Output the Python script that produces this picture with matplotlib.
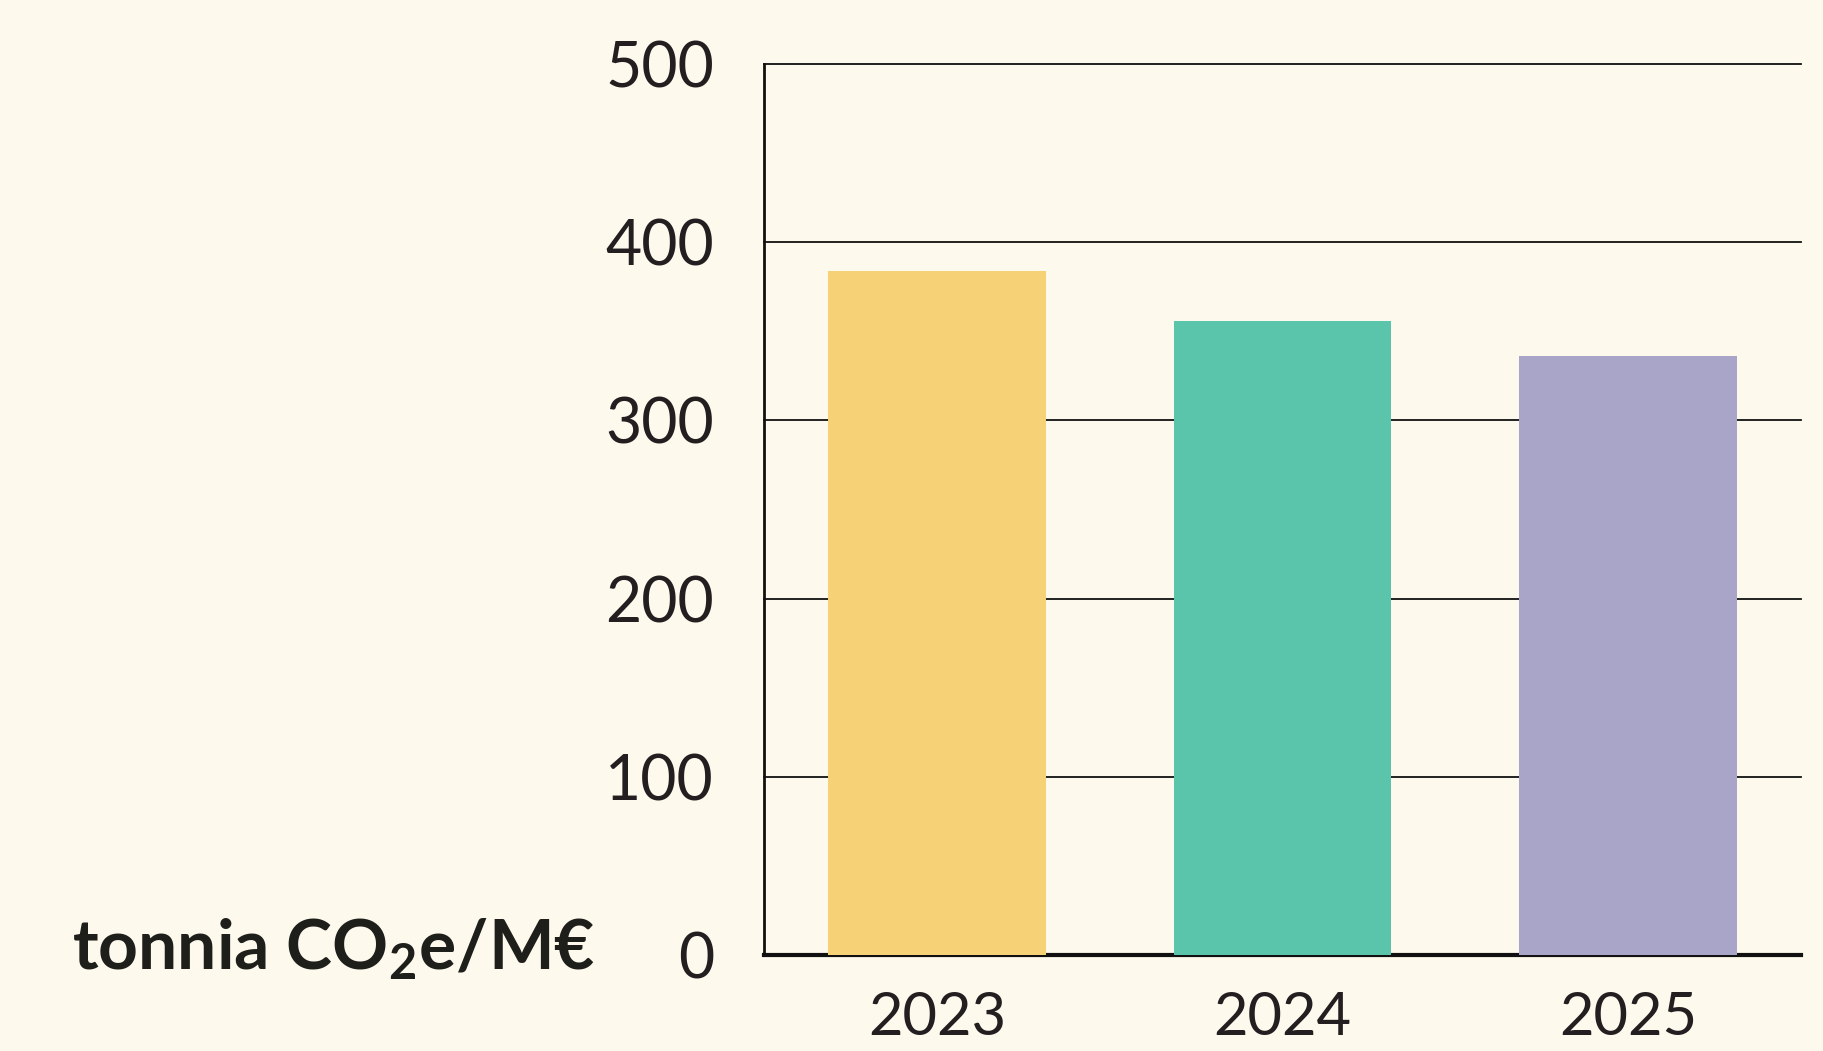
import matplotlib
matplotlib.use("Agg")
import matplotlib.pyplot as plt

# data
years = ["2023", "2024", "2025"]
values = [384, 356, 336]
bar_colors = ["#F7D176", "#5BC5AC", "#A8A5C9"]
yticks = [0, 100, 200, 300, 400, 500]

bg = "#FDF9ED"
ink = "#231F20"

plt.rcParams["font.family"] = ["Lato", "DejaVu Sans"]
plt.rcParams["mathtext.fontset"] = "custom"
plt.rcParams["mathtext.rm"] = "Lato:bold"
plt.rcParams["mathtext.default"] = "rm"

fig = plt.figure(figsize=(18.24, 10.51), dpi=100, facecolor=bg)
ax = fig.add_axes([0.4189, 0.0913, 0.5685, 0.8478], facecolor=bg)

x = range(len(years))
ax.bar(x, values, width=0.63, color=bar_colors, zorder=3)

ax.set_xlim(-0.5, 2.5)
ax.set_ylim(0, 500)
ax.set_yticks(yticks)
ax.set_xticks(list(x))
ax.set_xticklabels(years)

ax.tick_params(axis="y", length=0, pad=36, labelsize=45, labelcolor=ink)
ax.tick_params(axis="x", length=0, pad=26, labelsize=43, labelcolor=ink)

ax.yaxis.grid(True, color="#111111", linewidth=1.3, zorder=1)
for gl in ax.get_ygridlines():
    gl.set_clip_on(False)
ax.set_axisbelow(True)

for s in ["top", "right"]:
    ax.spines[s].set_visible(False)
ax.spines["left"].set_linewidth(2)
ax.spines["bottom"].set_linewidth(3)
ax.spines["left"].set_color("#111111")
ax.spines["bottom"].set_color("#111111")

fig.text(72 / 1824, 1 - 969 / 1051, r"tonnia CO$_2$e/M€", fontsize=50,
         fontweight="bold", color="#1E1E1A", ha="left", va="baseline")

fig.savefig("out.png", dpi=100, facecolor=bg)
